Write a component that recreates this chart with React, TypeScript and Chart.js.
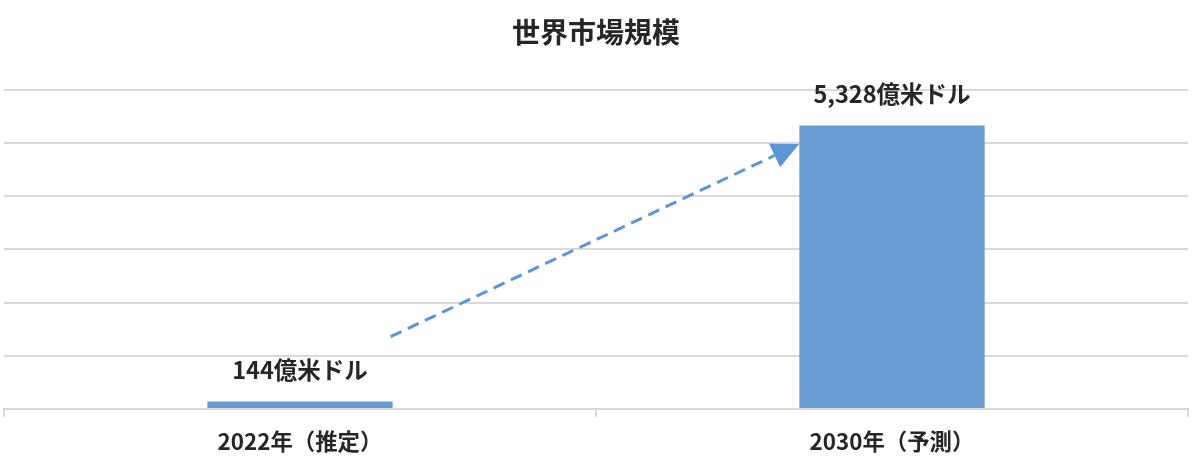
import React, { useEffect, useRef } from "react";
import { Chart, registerables } from "chart.js";

Chart.register(...registerables);

const TITLE = "世界市場規模";
const CATEGORIES = ["2022年（推定）", "2030年（予測）"];
const VALUES = [144, 5328];
const UNIT = "億米ドル";
const Y_MAX = 6000;
const Y_STEP = 1000;
// arrow endpoints in data coordinates (category index, value)
const ARROW_START = [0.153, 1360];
const ARROW_END = [0.843, 4980];

const FONT = '"Noto Sans CJK JP", "Noto Sans", sans-serif';
const TEXT = "#262626";
const BAR = "#6a9bd1";
const ARROW = "#5d95d6";
const GRID = "#d9d9d9";

const labelPlugin = {
  id: "valueLabels",
  afterDatasetsDraw(chart: any) {
    const ctx = chart.ctx;
    const meta = chart.getDatasetMeta(0);
    ctx.save();
    ctx.font = `bold 23.5px ${FONT}`;
    ctx.fillStyle = TEXT;
    ctx.textAlign = "center";
    ctx.textBaseline = "middle";
    meta.data.forEach((bar: any, i: number) => {
      ctx.fillText(VALUES[i].toLocaleString("en-US") + UNIT, bar.x, bar.y - 31);
    });
    ctx.restore();
  },
};

const arrowPlugin = {
  id: "arrow",
  afterDatasetsDraw(chart: any) {
    const xs = chart.scales.x;
    const ys = chart.scales.y;
    const x1 = xs.getPixelForValue(ARROW_START[0]);
    const y1 = ys.getPixelForValue(ARROW_START[1]);
    const x2 = xs.getPixelForValue(ARROW_END[0]);
    const y2 = ys.getPixelForValue(ARROW_END[1]);
    const ang = Math.atan2(y2 - y1, x2 - x1);
    const headLen = 27;
    const headW = 13;
    const bx = x2 - headLen * Math.cos(ang);
    const by = y2 - headLen * Math.sin(ang);
    const ctx = chart.ctx;
    ctx.save();
    ctx.strokeStyle = ARROW;
    ctx.fillStyle = ARROW;
    ctx.lineWidth = 3;
    ctx.setLineDash([12, 7]);
    ctx.beginPath();
    ctx.moveTo(x1, y1);
    ctx.lineTo(bx, by);
    ctx.stroke();
    ctx.setLineDash([]);
    ctx.beginPath();
    ctx.moveTo(x2, y2);
    ctx.lineTo(bx + headW * Math.sin(ang), by - headW * Math.cos(ang));
    ctx.lineTo(bx - headW * Math.sin(ang), by + headW * Math.cos(ang));
    ctx.closePath();
    ctx.fill();
    ctx.restore();
  },
};

export default function App() {
  const ref = useRef<HTMLCanvasElement>(null);
  useEffect(() => {
    if (!ref.current) return;
    const chart = new Chart(ref.current, {
      type: "bar",
      data: {
        labels: CATEGORIES,
        datasets: [
          {
            data: VALUES,
            backgroundColor: BAR,
            barPercentage: 1,
            categoryPercentage: 0.313,
          },
        ],
      },
      options: {
        responsive: false,
        animation: false,
        layout: { padding: { left: 4, right: 6, top: 0, bottom: 4 } },
        plugins: {
          legend: { display: false },
          tooltip: { enabled: false },
          title: {
            display: true,
            text: TITLE,
            color: TEXT,
            font: { family: FONT, size: 28, weight: "bold" },
            padding: { top: 15.5, bottom: 40.5 },
          },
        },
        scales: {
          x: {
            grid: {
              offset: true,
              drawOnChartArea: false,
              color: GRID,
              lineWidth: 2,
              tickLength: 8,
            },
            border: { color: GRID, width: 2 },
            ticks: {
              color: TEXT,
              padding: 11,
              font: { family: FONT, size: 22.4, weight: "bold" },
            },
          },
          y: {
            min: 0,
            max: Y_MAX,
            ticks: { display: false, stepSize: Y_STEP },
            grid: { color: GRID, lineWidth: 2, drawTicks: false },
            border: { display: false },
          },
        },
      },
      plugins: [labelPlugin, arrowPlugin],
    });
    return () => chart.destroy();
  }, []);
  return (
    <div style={{ position: "absolute", left: 0, top: 0, width: 1194, height: 470, background: "#fff" }}>
      <canvas ref={ref} width={1194} height={470} style={{ width: 1194, height: 470 }} />
    </div>
  );
}
